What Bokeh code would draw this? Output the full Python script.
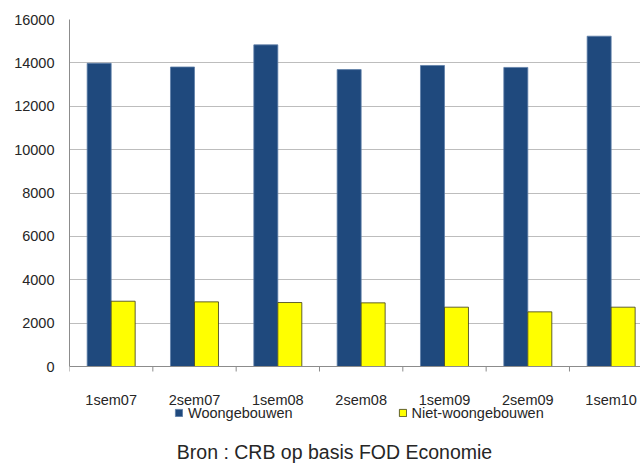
from bokeh.plotting import figure
from bokeh.models import (Range1d, FixedTicker, ColumnDataSource, Legend, LegendItem,
                          Label, Span)
from bokeh.core.properties import value
from bokeh.transform import dodge
from bokeh.embed import file_html
from bokeh.resources import INLINE

# Semester labels and building permit counts
periods = ["1sem07", "2sem07", "1sem08", "2sem08", "1sem09", "2sem09", "1sem10"]
woongebouwen = [13980, 13810, 14830, 13690, 13880, 13790, 15230]
niet_woongebouwen = [3010, 2980, 2950, 2935, 2735, 2520, 2735]
y_ticks = [0, 2000, 4000, 6000, 8000, 10000, 12000, 14000, 16000]

FONT = "Liberation Sans"
TEXT = "#262626"
AXIS = "#8C8C8C"

# Layout in pixels: plot left/top, value axis baseline, canvas size.
W, H = 640, 464
LEFT, TOP, BASE = 69, 19, 366
CAT_PX = 83.33
Y_MAX = 16000
px_per_unit = (BASE - TOP) / Y_MAX
y_start = -(H - BASE) / px_per_unit  # room below the baseline for labels/legend
x_end = (W - LEFT) / CAT_PX

centers = [i + 0.5 for i in range(len(periods))]
bounds = list(range(len(periods) + 1))
src = ColumnDataSource(dict(x=centers, w=woongebouwen, n=niet_woongebouwen,
                            lab=periods, y0=[0] * len(periods)))

p = figure(width=W, height=H, output_backend="svg", toolbar_location=None,
           x_range=Range1d(0, x_end), y_range=Range1d(y_start, Y_MAX),
           x_axis_location=None,
           min_border_left=LEFT, min_border_right=0, min_border_top=TOP,
           min_border_bottom=0)
p.outline_line_color = None
p.background_fill_color = "white"

# value axis, limited to the 0..16000 band
p.yaxis.ticker = FixedTicker(ticks=y_ticks)
p.yaxis.bounds = (0, Y_MAX)
p.yaxis.major_tick_out = 0
p.yaxis.major_tick_in = 0
p.yaxis.minor_tick_line_color = None
p.yaxis.axis_line_color = AXIS
p.yaxis.major_label_standoff = 15
p.yaxis.major_label_text_font = FONT
p.yaxis.major_label_text_font_size = "14.5px"
p.yaxis.major_label_text_color = TEXT

p.xgrid.grid_line_color = None
p.ygrid.grid_line_color = "#BDBDBD"
p.ygrid.grid_line_width = 1.2

bw = 0.288
r1 = p.vbar(x=dodge("x", -bw / 2), top="w", width=bw, source=src,
            fill_color="#1F497D", line_color="#5E7FA8", line_width=0.8)
r2 = p.vbar(x=dodge("x", bw / 2), top="n", width=bw, source=src,
            fill_color="#FFFF00", line_color="#3A3A1A", line_width=0.8)

# category axis: baseline, boundary ticks and centred labels
p.add_layout(Span(location=0, dimension="width", line_color=AXIS, line_width=1.2))
p.segment(x0=bounds, y0=[0] * len(bounds), x1=bounds,
          y1=[-5 / px_per_unit] * len(bounds), line_color=AXIS, line_width=1)
p.text(x="x", y="y0", text="lab", source=src, y_offset=33,
       text_align="center", text_baseline="alphabetic",
       text_font=value(FONT), text_font_size="14.5px", text_color=TEXT)

legend = Legend(items=[LegendItem(label="Woongebouwen", renderers=[r1]),
                       LegendItem(label="Niet-woongebouwen", renderers=[r2])],
                orientation="horizontal", location=(105, 43),
                glyph_width=9, glyph_height=9, label_standoff=5, spacing=105,
                padding=0, margin=0, border_line_color=None,
                background_fill_alpha=0, label_text_font=FONT,
                label_text_font_size="14.5px", label_text_color=TEXT,
                label_height=17)
p.add_layout(legend, "center")

# source line, centred under the chart
p.add_layout(Label(x=(334 - LEFT) / CAT_PX, y=-(451 - BASE) / px_per_unit,
                   text="Bron : CRB op basis FOD Economie", text_align="center",
                   text_baseline="middle", text_font=FONT,
                   text_font_size="19.5px", text_color=TEXT))

open("out.html", "w").write(file_html(p, INLINE))
